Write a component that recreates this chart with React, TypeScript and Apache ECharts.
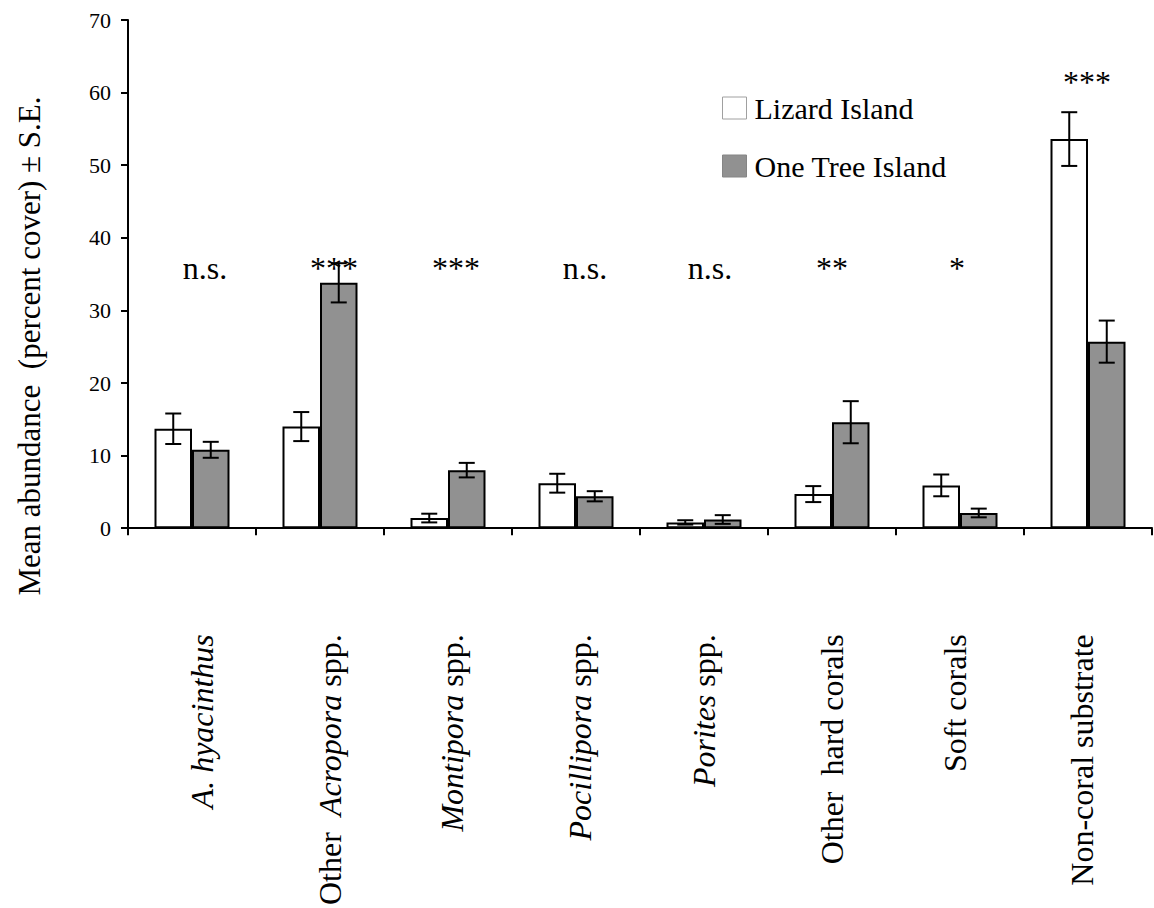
import React, { useEffect, useRef } from "react";
import * as echarts from "echarts";

// ---- data ----
const categories = [
  "A. hyacinthus",
  "Other  Acropora spp.",
  "Montipora spp.",
  "Pocillipora spp.",
  "Porites spp.",
  "Other  hard corals",
  "Soft corals",
  "Non-coral substrate",
];
// label segments: [text, italic]
const categoryParts: [string, boolean][][] = [
  [["A. hyacinthus", true]],
  [["Other  ", false], ["Acropora", true], [" spp.", false]],
  [["Montipora", true], [" spp.", false]],
  [["Pocillipora", true], [" spp.", false]],
  [["Porites", true], [" spp.", false]],
  [["Other  hard corals", false]],
  [["Soft corals", false]],
  [["Non-coral substrate", false]],
];
const lizardMean = [13.7, 14.0, 1.4, 6.2, 0.8, 4.7, 5.9, 53.6];
const lizardSE = [2.1, 2.0, 0.6, 1.3, 0.3, 1.1, 1.5, 3.7];
const oneTreeMean = [10.8, 33.8, 8.0, 4.4, 1.2, 14.6, 2.1, 25.7];
const oneTreeSE = [1.1, 2.7, 1.0, 0.7, 0.6, 2.9, 0.6, 2.9];
const significance = ["n.s.", "***", "***", "n.s.", "n.s.", "**", "*", "***"];
const significanceY = [35.8, 35.8, 35.8, 35.8, 35.8, 35.8, 35.8, 61.4];
const yMin = 0;
const yMax = 70;
const yInterval = 10;
const seriesNames = ["Lizard Island", "One Tree Island"];
const yTitle = "Mean abundance  (percent cover) \u00b1 S.E.";

// ---- style ----
const FONT = "Liberation Serif";
const GRAY = "#919191";
const BAR_W = 37.5;
const CAP = 16;
const sigDx = [13, 14, 8, 9, 6, 0, -3, -1];
const labelDx = [10, 10, 4, 4, 0, 0, -5, -6];

function errorSeries(means: number[], ses: number[], side: number) {
  return {
    type: "custom",
    z: 10,
    silent: true,
    data: means.map((m, i) => [i, m - ses[i], m + ses[i]]),
    renderItem: (_p: any, api: any) => {
      const i = api.value(0);
      const lo = api.coord([i, api.value(1)]);
      const hi = api.coord([i, api.value(2)]);
      const x = lo[0] + (side * BAR_W) / 2;
      const st = { stroke: "#000", lineWidth: 2 };
      return {
        type: "group",
        children: [
          { type: "line", shape: { x1: x, y1: hi[1], x2: x, y2: lo[1] }, style: st },
          { type: "line", shape: { x1: x - CAP / 2, y1: hi[1], x2: x + CAP / 2, y2: hi[1] }, style: st },
          { type: "line", shape: { x1: x - CAP / 2, y1: lo[1], x2: x + CAP / 2, y2: lo[1] }, style: st },
        ],
      };
    },
  };
}

export default function App() {
  const ref = useRef<HTMLDivElement>(null);
  useEffect(() => {
    document.body.style.margin = "0";
    const chart = echarts.init(ref.current!, undefined, { renderer: "svg" });
    const labelFormatter = (_v: string, idx: number) =>
      categoryParts[idx].map(([t, it]) => `{${it ? "i" : "n"}|${t}}`).join("");
    chart.setOption({
      animation: false,
      grid: { left: 128, right: 2, top: 20, bottom: 376, containLabel: false },
      legend: {
        orient: "vertical",
        left: 717,
        top: 87,
        itemWidth: 24,
        itemHeight: 22,
        itemGap: 26,
        icon: "rect",
        selectedMode: false,
        textStyle: { fontFamily: FONT, fontSize: 30, color: "#000", lineHeight: 32, padding: [0, 0, 0, 3] },
        data: [
          { name: seriesNames[0], itemStyle: { color: "#fff", borderColor: "#a0a0a0", borderWidth: 1 } },
          { name: seriesNames[1], itemStyle: { color: GRAY, borderColor: "#858585", borderWidth: 1 } },
        ],
      },
      xAxis: {
        type: "category",
        data: categories.map((c, i) => ({
          value: c,
          textStyle: {
            padding: labelDx[i] >= 0 ? [2 * labelDx[i], 0, 0, 0] : [0, 0, -2 * labelDx[i], 0],
          },
        })),
        axisLine: { lineStyle: { color: "#000", width: 2 } },
        axisTick: { show: true, length: 7, interval: 0, lineStyle: { color: "#000", width: 2 } },
        axisLabel: {
          interval: 0,
          rotate: 90,
          margin: 106,
          color: "#000",
          formatter: labelFormatter,
          rich: {
            n: { fontFamily: FONT, fontSize: 32, color: "#000" },
            i: { fontFamily: FONT, fontSize: 32, fontStyle: "italic", color: "#000" },
          },
        },
        splitLine: { show: false },
      },
      yAxis: {
        type: "value",
        min: yMin,
        max: yMax,
        interval: yInterval,
        axisLine: { show: true, lineStyle: { color: "#000", width: 2 } },
        axisTick: { show: true, length: 7, lineStyle: { color: "#000", width: 2 } },
        axisLabel: { fontFamily: FONT, fontSize: 22, color: "#000", margin: 17 },
        splitLine: { show: false },
      },
      graphic: [
        {
          type: "text",
          x: 29,
          y: 346,
          rotation: Math.PI / 2,
          style: {
            text: yTitle,
            font: `31px "${FONT}"`,
            fill: "#000",
            textAlign: "center",
            textVerticalAlign: "middle",
          },
        },
      ],
      series: [
        {
          name: seriesNames[0],
          type: "bar",
          data: lizardMean,
          barWidth: BAR_W,
          barGap: "0%",
          itemStyle: { color: "#fff", borderColor: "#000", borderWidth: 2 },
        },
        {
          name: seriesNames[1],
          type: "bar",
          data: oneTreeMean,
          barWidth: BAR_W,
          barGap: "0%",
          itemStyle: { color: GRAY, borderColor: "#000", borderWidth: 2 },
        },
        errorSeries(lizardMean, lizardSE, -1),
        errorSeries(oneTreeMean, oneTreeSE, 1),
        {
          type: "custom",
          silent: true,
          z: 11,
          data: significance.map((_s, i) => [i, significanceY[i]]),
          renderItem: (p: any, api: any) => {
            const i = api.value(0);
            const c = api.coord([i, api.value(1)]);
            return {
              type: "text",
              x: c[0] + sigDx[p.dataIndex],
              y: c[1],
              style: {
                text: significance[p.dataIndex],
                font: `32px "${FONT}"`,
                fill: "#000",
                textAlign: "center",
                textVerticalAlign: "middle",
              },
            };
          },
        },
      ],
    });
    return () => chart.dispose();
  }, []);
  return <div ref={ref} style={{ width: 1154, height: 908 }} />;
}
